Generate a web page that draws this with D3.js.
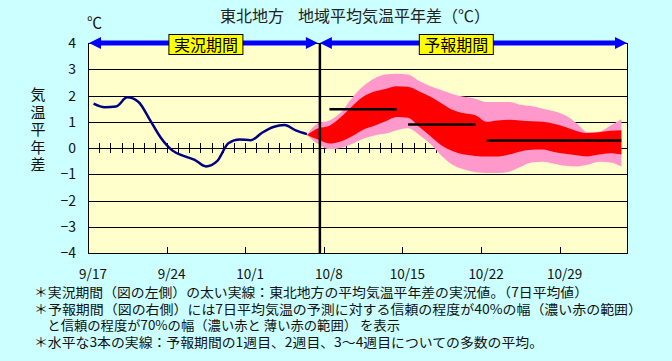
<!DOCTYPE html>
<html>
<head>
<meta charset="utf-8">
<script src="https://cdn.jsdelivr.net/npm/d3@7"></script>
<style>
body{margin:0;background:#ccffff;}
svg{display:block;font-family:"Noto Sans CJK JP","Noto Sans",sans-serif;}
</style>
</head>
<body>
<div id="chart"></div>
<script>
"use strict";

// x axis: day index, day 0 = 9/17
var nDays = 48;
var tickDays = [0, 7, 14, 21, 28, 35, 42];
var tickLabels = ["9/17", "9/24", "10/1", "10/8", "10/15", "10/22", "10/29"];
var yTicks = [4, 3, 2, 1, 0, -1, -2, -3, -4];

// observed 7-day mean anomaly (days 0..19)
var obsValues = [1.69, 1.55, 1.58, 1.93, 1.75, 1.08, 0.38, -0.09, -0.3, -0.45,
	-0.7, -0.5, 0.18, 0.32, 0.3, 0.58, 0.8, 0.88, 0.67, 0.53];

// forecast ranges (days 19..47)
var fcStart = 19;
var p70Upper = [0.5, 0.95, 1.05, 1.35, 1.9, 2.35, 2.65, 2.8, 2.83, 2.8,
	2.55, 2.35, 2.2, 2.05, 1.95, 1.88, 1.75, 1.75, 1.75, 1.65,
	1.6, 1.5, 1.4, 1.25, 0.95, 0.6, 0.62, 0.85, 1.1];
var p40Upper = [0.5, 0.75, 0.85, 1.17, 1.58, 1.95, 2.15, 2.25, 2.35, 2.33,
	2.15, 1.95, 1.7, 1.45, 1.32, 1.25, 1.0, 1.05, 1.08, 1.05,
	1.02, 1.0, 0.92, 0.8, 0.65, 0.57, 0.6, 0.66, 0.68];
var p40Lower = [0.5, 0.32, 0.17, 0.25, 0.45, 0.7, 0.85, 1.02, 1.18, 1.15,
	0.8, 0.45, 0.1, -0.12, -0.25, -0.3, -0.32, -0.32, -0.25, -0.13,
	-0.07, -0.06, -0.15, -0.22, -0.28, -0.32, -0.25, -0.2, -0.25];
var p70Lower = [0.5, 0.15, -0.05, 0.0, 0.15, 0.35, 0.48, 0.55, 0.68, 0.75,
	0.5, 0.15, -0.3, -0.65, -0.82, -0.92, -0.95, -0.95, -0.9, -0.72,
	-0.55, -0.52, -0.6, -0.68, -0.7, -0.64, -0.52, -0.55, -0.7];

// weekly means (1st week, 2nd week, 3rd-4th week)
var weekFrom = [21, 28, 35];
var weekTo = [27, 34, 47];
var weekMean = [1.48, 0.9, 0.29];

var sepDay = 20.65;

var titleParts = ["東北地方", "地域平均気温平年差（℃）"];
var yLabel = "気温平年差";
var periodLabels = ["実況期間", "予報期間"];
var periodLabelDay = [10.5, 32.8];
var notes = [
	"＊実況期間（図の左側）の太い実線：東北地方の平均気温平年差の実況値。（7日平均値）",
	"＊予報期間（図の右側）には7日平均気温の予測に対する信頼の程度が40%の幅（濃い赤の範囲）",
	"　と信頼の程度が70%の幅（濃い赤と 薄い赤の範囲） を表示",
	"＊水平な3本の実線：予報期間の1週目、2週目、3～4週目についての多数の平均。"
];
var noteWidths = [554, 608, 366, 509];

// =============== layout ===============
var width = 672, height = 361;
var plotL = 88, plotR = 627, plotT = 43, plotB = 253;

var svg = d3.select("#chart").append("svg")
	.attr("width", width)
	.attr("height", height);

svg.append("rect")
	.attr("width", width).attr("height", height)
	.attr("fill", "#ccffff");

var x = d3.scaleLinear().domain([0, nDays]).range([plotL, plotR]);
var y = d3.scaleLinear().domain([-4, 4]).range([plotB, plotT]);

svg.append("rect")
	.attr("x", x(0)).attr("y", y(4))
	.attr("width", x(nDays) - x(0)).attr("height", y(-4) - y(4))
	.attr("fill", "#ffffcc");

// horizontal grid
svg.append("g").selectAll("line")
	.data(yTicks.filter(function(d){ return d > -4 && d < 4; }))
	.enter().append("line")
	.attr("x1", x(0)).attr("x2", x(nDays))
	.attr("y1", function(d){ return Math.round(y(d)) + 0.5; })
	.attr("y2", function(d){ return Math.round(y(d)) + 0.5; })
	.attr("stroke", "#000").attr("stroke-width", 1);

// day ticks on the zero line
svg.append("g").selectAll("line")
	.data(d3.range(1, nDays))
	.enter().append("line")
	.attr("x1", function(d){ return Math.round(x(d)) + 0.5; })
	.attr("x2", function(d){ return Math.round(x(d)) + 0.5; })
	.attr("y1", y(0) - 5).attr("y2", y(0) + 5)
	.attr("stroke", "#000").attr("stroke-width", 1);

// forecast bands
function bandData(lo, hi){
	return lo.map(function(v, i){ return {d: fcStart + i + 0.5, lo: v, hi: hi[i]}; });
}
var area = d3.area()
	.x(function(d){ return x(d.d); })
	.y0(function(d){ return y(d.lo); })
	.y1(function(d){ return y(d.hi); })
	.curve(d3.curveMonotoneX);

svg.append("path")
	.datum(bandData(p70Lower, p70Upper))
	.attr("d", area)
	.attr("fill", "#ff99cc");
svg.append("path")
	.datum(bandData(p40Lower, p40Upper))
	.attr("d", area)
	.attr("fill", "#ff0000");

// weekly mean lines
svg.append("g").selectAll("line")
	.data(weekMean)
	.enter().append("line")
	.attr("x1", function(d, i){ return x(weekFrom[i] + 0.5); })
	.attr("x2", function(d, i){ return x(weekTo[i] + 0.5); })
	.attr("y1", function(d){ return y(d); })
	.attr("y2", function(d){ return y(d); })
	.attr("stroke", "#000").attr("stroke-width", 2.5);

// observed line
var line = d3.line()
	.x(function(d, i){ return x(i + 0.5); })
	.y(function(d){ return y(d); })
	.curve(d3.curveMonotoneX);
svg.append("path")
	.datum(obsValues)
	.attr("d", line)
	.attr("fill", "none")
	.attr("stroke", "#000080")
	.attr("stroke-width", 2.5);

// plot frame
svg.append("rect")
	.attr("x", x(0) + 0.5).attr("y", y(4) + 0.5)
	.attr("width", x(nDays) - x(0)).attr("height", y(-4) - y(4))
	.attr("fill", "none").attr("stroke", "#000").attr("stroke-width", 1);

// week ticks on the bottom
svg.append("g").selectAll("line")
	.data(tickDays)
	.enter().append("line")
	.attr("x1", function(d){ return Math.round(x(d)) + 0.5; })
	.attr("x2", function(d){ return Math.round(x(d)) + 0.5; })
	.attr("y1", y(-4) - 6).attr("y2", y(-4))
	.attr("stroke", "#000").attr("stroke-width", 1);

// separator between observed and forecast
svg.append("line")
	.attr("x1", x(sepDay)).attr("x2", x(sepDay))
	.attr("y1", y(4)).attr("y2", y(-4))
	.attr("stroke", "#000").attr("stroke-width", 2.5);

// x labels
svg.append("g").selectAll("text")
	.data(tickLabels)
	.enter().append("text")
	.attr("x", function(d, i){ return x(tickDays[i]) + 5; })
	.attr("y", 279)
	.attr("text-anchor", "middle")
	.style("font-size", "13.5px")
	.attr("fill", "#111")
	.text(function(d){ return d; });

// y labels
svg.append("g").selectAll("text")
	.data(yTicks)
	.enter().append("text")
	.attr("x", 76)
	.attr("y", function(d){ return y(d) + 5; })
	.attr("text-anchor", "end")
	.style("font-size", "14px")
	.attr("fill", "#111")
	.text(function(d){ return d < 0 ? "\u2212" + Math.abs(d) : d; });

svg.append("text")
	.attr("x", 87).attr("y", 28)
	.style("font-size", "15px")
	.attr("fill", "#111")
	.text("℃");

// vertical axis title
svg.append("text")
	.attr("x", 38).attr("y", 87)
	.style("writing-mode", "vertical-rl")
	.style("font-size", "15px")
	.style("letter-spacing", "2.5px")
	.attr("fill", "#111")
	.text(yLabel);

// title
var title = svg.append("text")
	.attr("y", 22)
	.style("font-size", "16px")
	.attr("fill", "#222");
title.append("tspan").attr("x", 220).text(titleParts[0]);
title.append("tspan").attr("x", 298).text(titleParts[1]);

// period arrows
function arrow(x0, x1){
	var p = d3.path(), yy = y(4), hl = 12, hw = 6;
	p.moveTo(x0, yy); p.lineTo(x0 + hl, yy - hw); p.lineTo(x0 + hl, yy + hw); p.closePath();
	p.moveTo(x1, yy); p.lineTo(x1 - hl, yy - hw); p.lineTo(x1 - hl, yy + hw); p.closePath();
	svg.append("line")
		.attr("x1", x0 + hl - 1).attr("x2", x1 - hl + 1)
		.attr("y1", yy).attr("y2", yy)
		.attr("stroke", "#0000ff").attr("stroke-width", 5);
	svg.append("path").attr("d", p.toString()).attr("fill", "#0000ff");
}
arrow(x(0) + 1, x(sepDay) - 2);
arrow(x(sepDay), x(nDays));

periodLabels.forEach(function(t, i){
	var cx = x(periodLabelDay[i]);
	svg.append("rect")
		.attr("x", cx - 37).attr("y", 34.5)
		.attr("width", 74).attr("height", 20)
		.attr("fill", "#ffff00").attr("stroke", "#000").attr("stroke-width", 1);
	svg.append("text")
		.attr("x", cx).attr("y", 50.5)
		.attr("text-anchor", "middle")
		.style("font-size", "16px")
		.attr("fill", "#000")
		.text(t);
});

// notes: one text block, one tspan per line
var noteText = svg.append("text")
	.style("font-size", "13px")
	.attr("fill", "#111");
noteText.selectAll("tspan")
	.data(notes)
	.enter().append("tspan")
	.attr("x", 34)
	.attr("y", function(d, i){ return 297 + i * 16.6; })
	.attr("textLength", function(d, i){ return noteWidths[i]; })
	.attr("lengthAdjust", "spacingAndGlyphs")
	.text(function(d){ return d; });
</script>
</body>
</html>
